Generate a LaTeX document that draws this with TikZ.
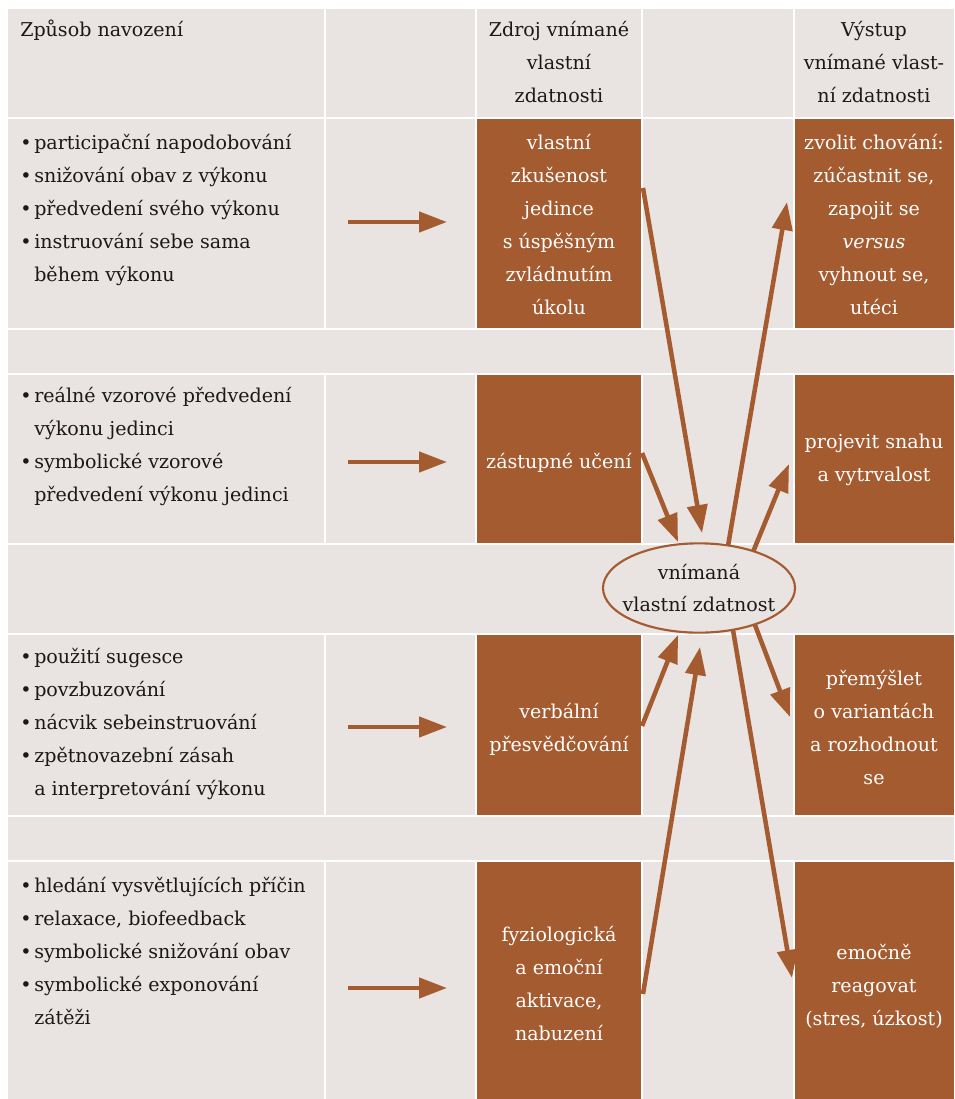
\documentclass[tikz,border=0pt]{standalone}
\usepackage{fontspec}
\setmainfont{DejaVu Serif}
\usetikzlibrary{arrows.meta,shapes.geometric}

\definecolor{cellbg}{RGB}{233,227,225}
\definecolor{rust}{RGB}{164,91,48}
\definecolor{ink}{RGB}{25,25,25}

\newcommand\itm{\makebox[10.5pt][l]{\textbullet}}
\newcommand\ind{\hspace*{10.5pt}}

\tikzset{
  cell/.style={fill=cellbg},
  hot/.style={fill=rust},
  % anchor=base sits on the baseline of the last line
  body/.style={font=\fontsize{14.3pt}{24.75pt}\selectfont, inner sep=0pt, text=ink},
  lefttext/.style={body, align=left, anchor=base west},
  headtext/.style={body, align=center, anchor=base},
  boxtext/.style={body, align=center, anchor=base, text=white},
  flow/.style={draw=rust, line width=3.4pt, -{Triangle[length=21pt,width=15pt]}},
}

\begin{document}
\begin{tikzpicture}[x=0.75pt, y=-0.75pt]
\useasboundingbox (0,0) rectangle (954,1099);
\fill[white] (0,0) rectangle (954,1099);

% header row
\fill[cell] (8,9) rectangle (324,117);
\fill[cell] (326,9) rectangle (475,117);
\fill[cell] (477,9) rectangle (641,117);
\fill[cell] (643,9) rectangle (793,117);
\fill[cell] (795,9) rectangle (954,117);

% content rows: y ranges
\foreach \ya/\yb in {119/328, 375/543, 635/815, 862/1099}{
  \fill[cell] (8,\ya) rectangle (324,\yb);
  \fill[cell] (326,\ya) rectangle (475,\yb);
  \fill[hot]  (477,\ya) rectangle (641,\yb);
  \fill[cell] (643,\ya) rectangle (793,\yb);
  \fill[hot]  (795,\ya) rectangle (954,\yb);
}

% spacer rows
\fill[cell] (8,330) rectangle (954,373);
\fill[cell] (8,545) rectangle (954,633);
\fill[cell] (8,817) rectangle (954,860);

% headings
\node[lefttext] (h1) at (20,37) {Způsob navození};
\node[headtext] (h3) at (559,103) {Zdroj vnímané\\vlastní\\zdatnosti};
\node[headtext] (h5) at (874,103) {Výstup\\vnímané vlast-\\ní zdatnosti};

% ways of induction
\node[lefttext] (m1) at (20,281) {\itm participační napodobování\\\itm snižování obav z výkonu\\\itm předvedení svého výkonu\\\itm instruování sebe sama\\\ind během výkonu};
\node[lefttext] (m2) at (20,501) {\itm reálné vzorové předvedení\\\ind výkonu jedinci\\\itm symbolické vzorové\\\ind předvedení výkonu jedinci};
\node[lefttext] (m3) at (20,795) {\itm použití sugesce\\\itm povzbuzování\\\itm nácvik sebeinstruování\\\itm zpětnovazební zásah\\\ind a interpretování výkonu};
\node[lefttext] (m4) at (20,1024) {\itm hledání vysvětlujících příčin\\\itm relaxace, biofeedback\\\itm symbolické snižování obav\\\itm symbolické exponování\\\ind zátěži};

% sources
\node[boxtext] (s1) at (559,314) {vlastní\\zkušenost\\jedince\\s úspěšným\\zvládnutím\\úkolu};
\node[boxtext] (s2) at (559,468) {zástupné učení};
\node[boxtext] (s3) at (559,751) {verbální\\přesvědčování};
\node[boxtext] (s4) at (559,1040) {fyziologická\\a emoční\\aktivace,\\nabuzení};

% outcomes
\node[boxtext] (o1) at (874,314) {zvolit chování:\\zúčastnit se,\\zapojit se\\\textit{versus}\\vyhnout se,\\utéci};
\node[boxtext] (o2) at (874,481) {projevit snahu\\a vytrvalost};
\node[boxtext] (o3) at (874,784) {přemýšlet\\o variantách\\a rozhodnout\\se};
\node[boxtext] (o4) at (874,1025) {emočně\\reagovat\\(stres, úzkost)};

% arrow end points
\foreach \n/\y in {1/222, 2/462, 3/727, 4/988}{
  \coordinate (ha\n) at (348,\y);
  \coordinate (hb\n) at (447,\y);
}
\coordinate (a1s) at (643,188);  \coordinate (a1e) at (702,533);
\coordinate (a2s) at (642,453);  \coordinate (a2e) at (678,542);
\coordinate (a3s) at (728,546);  \coordinate (a3e) at (787,202);
\coordinate (a4s) at (753,552);  \coordinate (a4e) at (789,464);
\coordinate (a5s) at (642,726);  \coordinate (a5e) at (678,635);
\coordinate (a6s) at (643,994);  \coordinate (a6e) at (700,647);
\coordinate (a7s) at (755,625);  \coordinate (a7e) at (790,717);
\coordinate (a8s) at (733,630);  \coordinate (a8e) at (792,978);

% connectors
\foreach \n in {1,2,3,4}{ \draw[flow] (ha\n) -- (hb\n); }
\foreach \n in {1,...,8}{ \draw[flow] (a\n s) -- (a\n e); }

% central node
\node[ellipse, draw=rust, line width=1.6pt, fill=cellbg,
      inner xsep=-6.6pt, inner ysep=0pt,
      minimum width=144pt, minimum height=67pt, align=center,
      font=\fontsize{14.3pt}{24pt}\selectfont, text=ink] (se) at (699,588)
  {vnímaná\\vlastní zdatnost};
\end{tikzpicture}
\end{document}
